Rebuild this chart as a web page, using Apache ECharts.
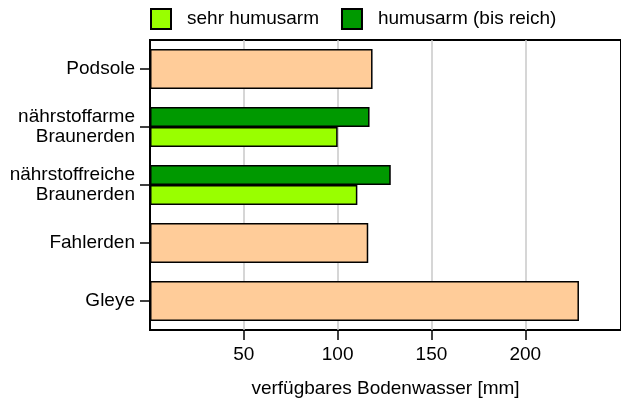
<!DOCTYPE html>
<html><head><meta charset="utf-8">
<script src="https://cdn.jsdelivr.net/npm/echarts@6/dist/echarts.min.js"></script>
<style>html,body{margin:0;padding:0;background:#fff}#c{width:621px;height:403px}</style>
</head><body><div id="c"></div>
<script>
var categories = ['Podsole', 'nährstoffarme\nBraunerden', 'nährstoffreiche\nBraunerden', 'Fahlerden', 'Gleye'];
var singleValues = [118.6, null, null, 116.3, 228.6];
var sehrHumusarm = [null, 100, 110.5, null, null];
var humusarm = [null, 117, 128.3, null, null];
var xTicks = [50, 100, 150, 200];

var font = 'Liberation Sans, Arial, sans-serif';
var chart = echarts.init(document.getElementById('c'));
chart.setOption({
  animation: false,
  textStyle: {fontFamily: font},
  legend: {
    left: 150, top: 8, padding: 0, itemWidth: 20, itemHeight: 20, itemGap: 22,
    icon: 'rect',
    data: ['sehr humusarm', 'humusarm (bis reich)'],
    textStyle: {fontSize: 19, color: '#000', fontFamily: font, padding: [0, 0, 0, 11]}
  },
  grid: {left: 150, right: -3, top: 40, bottom: 70, show: true, borderColor: '#000', borderWidth: 2},
  xAxis: {
    type: 'value', min: 0, max: 251,
    axisLine: {show: false},
    axisTick: {show: true, length: 10, customValues: xTicks, lineStyle: {color: '#000', width: 1.5}},
    axisLabel: {customValues: xTicks, fontSize: 19, color: '#000', margin: 15, fontFamily: font},
    splitLine: {show: true, lineStyle: {color: '#c8c8c8', width: 1.5}},
    name: 'verfügbares Bodenwasser [mm]', nameLocation: 'middle', nameGap: 49,
    nameTextStyle: {fontSize: 19, color: '#000', fontFamily: font}
  },
  yAxis: [{
    type: 'category', data: categories, inverse: true,
    axisLine: {show: false},
    axisTick: {show: true, alignWithLabel: true, length: 10, lineStyle: {color: '#000', width: 1.5}},
    axisLabel: {fontSize: 19, color: '#000', lineHeight: 20, margin: 15, fontFamily: font}
  }, {
    type: 'category', data: categories, inverse: true, show: false
  }],
  series: [{
    name: 'single', type: 'bar', yAxisIndex: 0, data: singleValues, barWidth: 40,
    itemStyle: {color: '#FFCC99', borderColor: '#000', borderWidth: 1.5}
  }, {
    name: 'humusarm (bis reich)', type: 'bar', yAxisIndex: 1, data: humusarm, barWidth: 20, barGap: '0%',
    itemStyle: {color: '#009900', borderColor: '#000', borderWidth: 1.5}
  }, {
    name: 'sehr humusarm', type: 'bar', yAxisIndex: 1, data: sehrHumusarm, barWidth: 20, barGap: '0%',
    itemStyle: {color: '#99FF00', borderColor: '#000', borderWidth: 1.5}
  }]
});
</script></body></html>
